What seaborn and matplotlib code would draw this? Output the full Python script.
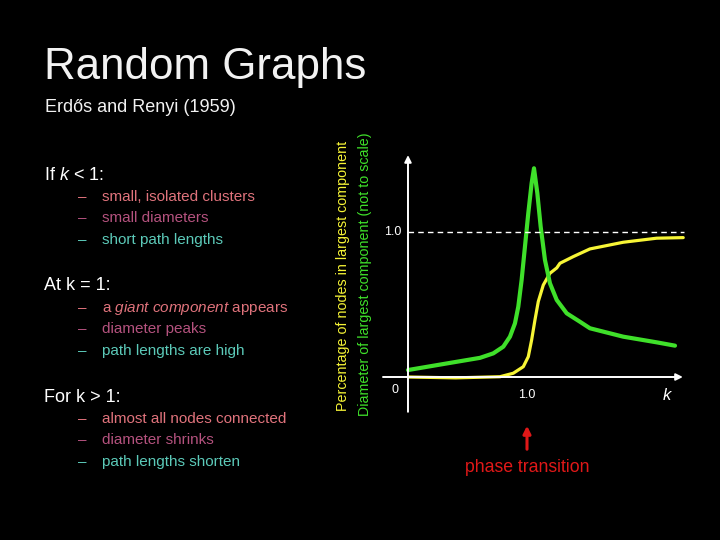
import matplotlib
matplotlib.use("Agg")
import matplotlib.pyplot as plt
import seaborn as sns
import pandas as pd

# curve values (k on x, height in units of the 1.0 line)
k_diam = [0.0, 0.33, 0.605, 0.717, 0.801, 0.857, 0.899, 0.927, 0.955, 0.983,
          1.011, 1.039, 1.059, 1.087, 1.115, 1.151, 1.193, 1.25, 1.334, 1.445,
          1.529, 1.809, 2.09, 2.244]
diameter = [0.048, 0.094, 0.132, 0.163, 0.209, 0.278, 0.37, 0.485, 0.669, 0.899,
            1.129, 1.336, 1.439, 1.267, 1.037, 0.807, 0.646, 0.531, 0.439, 0.381,
            0.336, 0.278, 0.239, 0.216]
k_frac = [0.0, 0.4, 0.773, 0.885, 0.969, 1.011, 1.039, 1.067, 1.095, 1.137,
          1.193, 1.25, 1.277, 1.389, 1.529, 1.809, 2.09, 2.313]
fraction = [0.0, -0.006, 0.002, 0.026, 0.071, 0.14, 0.255, 0.393, 0.52, 0.634,
            0.715, 0.752, 0.784, 0.83, 0.883, 0.929, 0.957, 0.961]

title = "Random Graphs"
subtitle = "Erdős and Renyi (1959)"
groups = [
    ("If $k$ < 1:", ["small, isolated clusters", "small diameters", "short path lengths"]),
    ("At k = 1:", ["a $giant\\ component$ appears", "diameter peaks", "path lengths are high"]),
    ("For k > 1:", ["almost all nodes connected", "diameter shrinks", "path lengths shorten"]),
]
item_colors = ["#e0737c", "#b4527e", "#5ccab9"]
green = "#3fe02a"
yellow = "#f7f536"
red = "#e01818"

sns.set_theme(style="dark")
plt.rcParams["font.family"] = ["Liberation Sans", "DejaVu Sans"]
plt.rcParams["mathtext.fontset"] = "custom"
plt.rcParams["mathtext.rm"] = "Liberation Sans"
plt.rcParams["mathtext.it"] = "Liberation Sans:italic"

W, H = 720, 540
fig = plt.figure(figsize=(7.2, 5.4), dpi=100, facecolor="black")


def fx(px):
    return px / W


def fy(py):
    return 1 - py / H


# slide text
fig.text(fx(44), fy(68), title, color="#f2f2f2", fontsize=31.6, va="center")
fig.text(fx(45), fy(108), subtitle, color="#f2f2f2", fontsize=13, va="center")

head_y = [175, 286, 397]
for (head, items), y0 in zip(groups, head_y):
    fig.text(fx(44), fy(y0), head, color="white", fontsize=13, va="center")
    for i, (item, col) in enumerate(zip(items, item_colors)):
        yy = y0 + 22 + i * 21.3
        fig.text(fx(78), fy(yy), "–", color=col, fontsize=11, va="center")
        fig.text(fx(102), fy(yy), item, color=col, fontsize=11, va="center")

# axis titles
fig.text(fx(343), fy(276), "Percentage of nodes in largest component",
         color=yellow, fontsize=10.3, rotation=90, ha="center", va="center")
fig.text(fx(365), fy(274), "Diameter of largest component (not to scale)",
         color=green, fontsize=10.3, rotation=90, ha="center", va="center")

# chart area
ax = fig.add_axes([fx(383), fy(415), fx(690) - fx(383), fy(140) - fy(415)])
ax.set_facecolor("black")
ax.set_xlim(-0.21, 2.37)
ax.set_ylim(-0.262, 1.634)
for s in ax.spines.values():
    s.set_visible(False)
ax.set_xticks([])
ax.set_yticks([])
ax.grid(False)

df_d = pd.DataFrame({"k": k_diam, "v": diameter})
df_f = pd.DataFrame({"k": k_frac, "v": fraction})
sns.lineplot(data=df_f, x="k", y="v", ax=ax, color=yellow, linewidth=2.3,
             estimator=None)
sns.lineplot(data=df_d, x="k", y="v", ax=ax, color=green, linewidth=3.0,
             estimator=None)
ax.set_xlabel("")
ax.set_ylabel("")

ax.hlines(1.0, 0, 2.32, colors="white", linestyles=(0, (4, 3)), linewidth=1)
arrow = dict(arrowstyle="-|>", color="white", lw=1.4, mutation_scale=10,
             shrinkA=0, shrinkB=0)
ax.annotate("", xy=(0, 1.53), xytext=(0, -0.24), arrowprops=arrow)
ax.annotate("", xy=(2.31, 0), xytext=(-0.21, 0), arrowprops=arrow)

ax.text(-0.126, 1.0, "1.0", color="white", fontsize=9, ha="center", va="center")
ax.text(-0.11, -0.09, "0", color="white", fontsize=9, ha="center", va="center")
ax.text(1.0, -0.125, "1.0", color="white", fontsize=9, ha="center", va="center")
ax.text(2.18, -0.125, "$k$", color="white", fontsize=12, ha="center", va="center")

# phase transition marker
fig.patches.append(matplotlib.patches.FancyArrowPatch(
    (fx(527), fy(452)), (fx(527), fy(423)), transform=fig.transFigure,
    arrowstyle="-|>", mutation_scale=11, color=red, lw=2.2))
fig.text(fx(527), fy(467), "phase transition", color=red, fontsize=12.7,
         ha="center", va="center")

fig.savefig("out.png", dpi=100, facecolor="black")
